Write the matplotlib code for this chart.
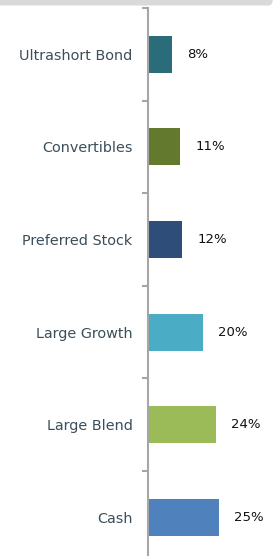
import matplotlib.pyplot as plt
from matplotlib.patches import FancyBboxPatch

# dados do gráfico
categorias = ['Ultrashort Bond', 'Convertibles', 'Preferred Stock',
              'Large Growth', 'Large Blend', 'Cash']
valores = [8.4, 11.3, 12.0, 19.4, 23.9, 25.0]
rotulos = ['8%', '11%', '12%', '20%', '24%', '25%']
cores = ['#2b6c7a', '#637a2e', '#2e4d78', '#4bacc6', '#9bbb59', '#4f81bd']

W, H = 278, 556
fig = plt.figure(figsize=(W / 100, H / 100), dpi=100)
fig.patch.set_facecolor('white')

# faixa cinza no topo
faixa = FancyBboxPatch((-20 / W, 550.5 / H), (273 + 20) / W, 20 / H,
                       boxstyle='round,pad=0,rounding_size=0.015',
                       transform=fig.transFigure, facecolor='#d9d9d9',
                       edgecolor='none', zorder=5)
fig.add_artist(faixa)

topo, base = 8, 563.6
ax = fig.add_axes([148 / W, 1 - base / H, 1 - 148 / W, (base - topo) / H])
ax.set_facecolor('none')

pos = list(range(len(categorias)))
barras = ax.barh(pos, valores, height=0.4, color=cores)
ax.set_xlim(0, (W - 148) / 2.84)
ax.set_ylim(len(categorias) - 0.5, -0.5)

for b, r in zip(barras, rotulos):
    ax.annotate(r, (b.get_width(), b.get_y() + b.get_height() / 2),
                xytext=(15, 0), textcoords='offset pixels', va='center',
                ha='left', fontsize=9.5, color='#111111', family='DejaVu Sans')

for s in ['top', 'right', 'bottom']:
    ax.spines[s].set_visible(False)
ax.spines['left'].set_color('#a6a6a6')
ax.spines['left'].set_linewidth(1.5)

ax.set_xticks([])
ax.set_yticks(pos)
ax.set_yticklabels(categorias, fontsize=10.4, color='#3b4e5a', family='DejaVu Sans')
ax.tick_params(axis='y', which='major', length=0, pad=11)
ax.set_yticks([p - 0.5 for p in pos] + [len(pos) - 0.5], minor=True)
ax.tick_params(axis='y', which='minor', length=4, width=1.5, color='#a6a6a6')

fig.savefig('out.png', dpi=100)
